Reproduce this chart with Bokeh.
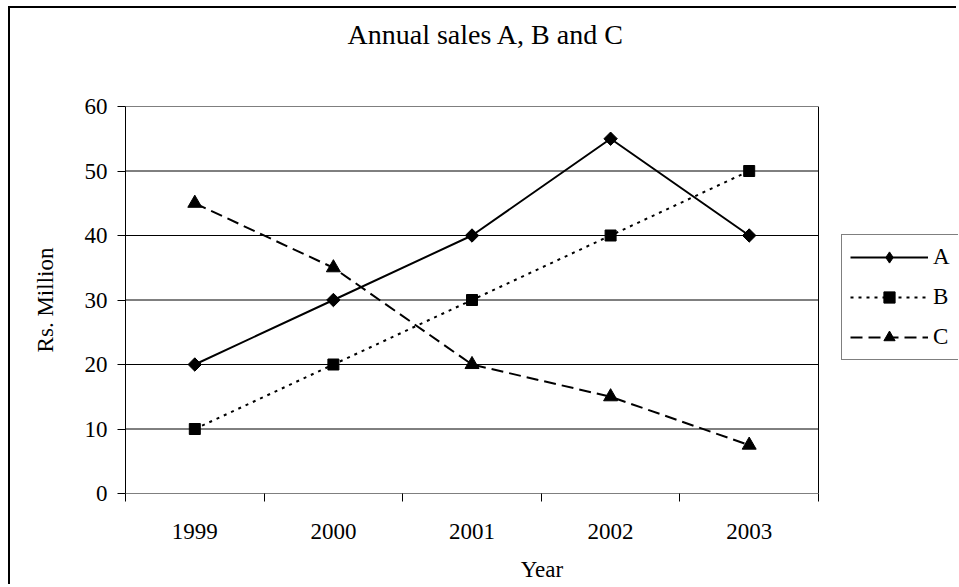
import math
from bokeh.plotting import figure
from bokeh.models import Range1d, FixedTicker, Legend, LegendItem, Title
from bokeh.embed import file_html
from bokeh.resources import INLINE

# ---- data ----
years = ["1999", "2000", "2001", "2002", "2003"]
sales_a = [20, 30, 40, 55, 40]
sales_b = [10, 20, 30, 40, 50]
sales_c = [45, 35, 20, 15, 7.5]
y_ticks = [0, 10, 20, 30, 40, 50, 60]
title_text = "Annual sales A, B and C"
x_title = "Year"
y_title = "Rs. Million"

FONT = "Liberation Serif"

n = len(years)
xs = [i + 0.5 for i in range(n)]
bounds = [i for i in range(n + 1)]
y_max = y_ticks[-1]

W, H = 948, 578
LEFT, TOP, BOTTOM = 115, 97, 93
PLOT_W = 693  # pixel width of the plot area (categories)
x_end = n * (W - LEFT) / PLOT_W  # frame extends right to hold the legend

p = figure(width=W, height=H, output_backend="svg", toolbar_location=None,
           x_range=Range1d(0, x_end), y_range=Range1d(0, y_max),
           min_border_left=LEFT, min_border_top=TOP, min_border_right=0,
           min_border_bottom=BOTTOM)
p.styles = {"border-top": "2px solid black", "border-left": "2px solid black",
            "margin-top": "6px", "margin-left": "8px"}
p.title.text = ""
p.title.standoff = 0

# spacer (inner) and the chart title (outer) stacked above the plot area
spacer = Title(text=" ", text_font_size="2px", standoff=41)
p.add_layout(spacer, "above")
main_title = Title(text=title_text, text_font=FONT, text_font_size="28px",
                   text_font_style="normal", text_color="black",
                   align="left", offset=222, vertical_align="top", standoff=20)
p.add_layout(main_title, "above")

p.outline_line_color = None
p.background_fill_color = "white"
p.border_fill_color = "white"
p.xgrid.grid_line_color = None
p.ygrid.grid_line_color = None

# horizontal gridlines across the plot area only
p.segment(x0=[0] * len(y_ticks), x1=[n] * len(y_ticks), y0=y_ticks, y1=y_ticks,
          line_color="black", line_width=1)
# right edge of the plot area
p.segment(x0=[n], x1=[n], y0=[0], y1=[y_max], line_color="black", line_width=1)

# x axis
xa = p.xaxis[0]
xa.ticker = FixedTicker(ticks=xs, minor_ticks=bounds)
xa.major_label_overrides = {x: y for x, y in zip(xs, years)}
xa.major_tick_out = 0
xa.major_tick_in = 0
xa.minor_tick_out = 8
xa.minor_tick_in = 0
xa.minor_tick_line_color = "black"
xa.axis_line_color = None
xa.major_label_text_font = FONT
xa.major_label_text_font_size = "23px"
xa.major_label_text_color = "black"
xa.major_label_standoff = 22
xa.axis_label = x_title
xa.axis_label_text_font = FONT
xa.axis_label_text_font_size = "23px"
xa.axis_label_text_font_style = "normal"
xa.axis_label_text_color = "black"
xa.axis_label_standoff = 15

# y axis
ya = p.yaxis[0]
ya.ticker = FixedTicker(ticks=y_ticks)
ya.major_tick_out = 8
ya.major_tick_in = 0
ya.minor_tick_line_color = None
ya.axis_line_color = "black"
ya.major_tick_line_color = "black"
ya.major_label_text_font = FONT
ya.major_label_text_font_size = "23px"
ya.major_label_text_color = "black"
ya.major_label_standoff = 10
ya.axis_label = y_title
ya.axis_label_text_font = FONT
ya.axis_label_text_font_size = "23px"
ya.axis_label_text_font_style = "normal"
ya.axis_label_text_color = "black"
ya.axis_label_standoff = 24

# series
la = p.line(xs, sales_a, line_color="black", line_width=2)
ma = p.scatter(xs, sales_a, marker="square", angle=math.pi / 4, size=9.5,
               fill_color="black", line_color="black")
# diamond drawn inside the rotated square: used for the legend swatch
ka = p.scatter(xs, sales_a, marker="diamond", size=12,
               fill_color="black", line_color="black")
lb = p.line(xs, sales_b, line_color="black", line_width=2, line_dash="3 5")
mb = p.scatter(xs, sales_b, marker="square", size=11,
               fill_color="black", line_color="black")
lc = p.line(xs, sales_c, line_color="black", line_width=2, line_dash="12 6")
mc = p.scatter(xs, sales_c, marker="triangle", size=14,
               fill_color="black", line_color="black")

legend = Legend(items=[
    LegendItem(label="A", renderers=[la, ka]),
    LegendItem(label="B", renderers=[lb, mb]),
    LegendItem(label="C", renderers=[lc, mc]),
], location=(716, 133))
legend.label_text_font = FONT
legend.label_text_font_size = "23px"
legend.label_text_color = "black"
legend.glyph_width = 78
legend.glyph_height = 28
legend.label_height = 27
legend.label_standoff = 5
legend.spacing = 12
legend.padding = 8
legend.margin = 0
legend.border_line_color = "black"
legend.border_line_width = 1
legend.background_fill_color = "white"
legend.background_fill_alpha = 1
p.add_layout(legend, "center")

open("out.html", "w").write(file_html(p, INLINE))
